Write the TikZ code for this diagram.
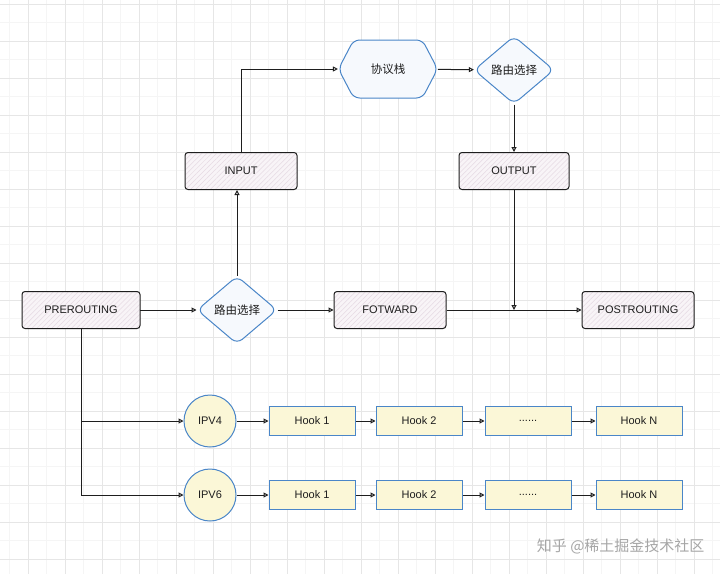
\documentclass[tikz,border=0pt]{standalone}
\usepackage{fontspec}
\setmainfont{Liberation Sans}
\newfontfamily\cjk{Noto Sans CJK SC}
\usepackage{xcolor}
\usepackage{tikz}
\usetikzlibrary{arrows.meta, positioning, shapes.geometric, shapes.symbols, patterns.meta}

\definecolor{inkline}{HTML}{1E1E1E}
\definecolor{blueline}{HTML}{4A86C8}
\definecolor{bluefill}{HTML}{F6F9FD}
\definecolor{yellowfill}{HTML}{FBF7D7}
\definecolor{pinkhatch}{HTML}{E6DAE3}
\definecolor{pinkfill}{HTML}{F8F4F7}
\definecolor{gridline}{HTML}{E6E6E6}

\begin{document}
\begin{tikzpicture}[
    x=1pt, y=1pt,
    font=\fontsize{11}{13}\selectfont,
    text=inkline,
    node distance=20pt and 20pt,
    hookchain/.style={
      draw=inkline,
      rounded corners=3pt,
      line width=1pt,
      preaction={fill=pinkfill},
      pattern={Lines[angle=45, distance=3.5pt, line width=0.5pt]},
      pattern color=pinkhatch,
      align=center,
      minimum width=112pt,
      minimum height=37pt,
      inner sep=3pt
    },
    decision/.style={
      diamond,
      draw=blueline,
      fill=bluefill,
      line width=1pt,
      rounded corners=7pt,
      minimum width=80pt,
      minimum height=68pt,
      inner sep=0pt,
      font=\cjk\fontsize{11.5}{13}\selectfont
    },
    stackbox/.style={
      signal,
      signal to=east and west,
      signal pointer angle=125,
      draw=blueline,
      fill=bluefill,
      line width=1pt,
      rounded corners=6pt,
      minimum width=99pt,
      minimum height=58pt,
      inner sep=0pt,
      font=\cjk\fontsize{11.5}{13}\selectfont
    },
    family/.style={
      circle,
      draw=blueline,
      fill=yellowfill,
      line width=1pt,
      minimum size=52pt,
      inner sep=0pt
    },
    hookbox/.style={
      draw=blueline,
      fill=yellowfill,
      line width=1pt,
      minimum width=86pt,
      minimum height=29pt,
      inner sep=2pt,
      font=\fontsize{11}{13}\selectfont
    },
    arrow/.style={
      -{Triangle[open, length=5pt, width=5pt]},
      line width=1pt,
      draw=inkline
    }
  ]

    % Paper with grid
    \fill[white] (0,0) rectangle (720,-573);
    \begin{scope}
      \clip (0,0) rectangle (720,-573);
      \draw[gridline!40, line width=0.4pt, step=18.5, shift={(28,-4)}] (-56,-592) grid (703,20);
      \draw[gridline, line width=0.6pt, step=37, shift={(28,-4)}] (-74,-592) grid (703,20);
    \end{scope}
    \useasboundingbox (0,0) rectangle (720,-573);

    % Main netfilter chain
    \node[hookchain, minimum width=118pt] (pre) at (81,-310) {PREROUTING};
    \node[decision] (route) at (237,-310) {路由选择};
    \node[hookchain] (fwd) at (390,-310) {FOTWARD};
    \node[hookchain] (post) at (638,-310) {POSTROUTING};

    % Local delivery and local output
    \node[hookchain] (input) at (241,-171) {INPUT};
    \node[stackbox] (stack) at (388,-69) {协议栈};
    \node[decision] (routeout) at (514,-70) {路由选择};
    \node[hookchain, minimum width=110pt] (output) at (514,-171) {OUTPUT};

    % Protocol families with their hook lists
    \node[family] (ipv4) at (210,-421) {IPV4};
    \node[hookbox] (h4a) at (312,-421) {Hook 1};
    \node[hookbox, right=of h4a] (h4b) {Hook 2};
    \node[hookbox, right=22pt of h4b] (h4c) {......};
    \node[hookbox, right=24pt of h4c] (h4d) {Hook N};

    \node[family] (ipv6) at (210,-495) {IPV6};
    \node[hookbox] (h6a) at (312,-495) {Hook 1};
    \node[hookbox, right=of h6a] (h6b) {Hook 2};
    \node[hookbox, right=22pt of h6b] (h6c) {......};
    \node[hookbox, right=24pt of h6c] (h6d) {Hook N};

    % Chain arrows
    \draw[arrow] (pre) -- (route);
    \draw[arrow] (route) -- (fwd);
    \draw[arrow] (fwd) -- (post);
    \draw[arrow] (route.north) -- (route.north |- input.south);
    \draw[arrow] (input.north) |- (stack.west);
    \draw[arrow] (stack) -- (routeout);
    \draw[arrow] (routeout) -- (output);
    \draw[arrow] (output.south) -- (output.south |- fwd.east);

    % Family branches
    \draw[arrow] (pre.south) |- (ipv4.west);
    \draw[arrow] (pre.south) |- (ipv6.west);
    \draw[arrow] (ipv4) -- (h4a);
    \draw[arrow] (h4a) -- (h4b);
    \draw[arrow] (h4b) -- (h4c);
    \draw[arrow] (h4c) -- (h4d);
    \draw[arrow] (ipv6) -- (h6a);
    \draw[arrow] (h6a) -- (h6b);
    \draw[arrow] (h6b) -- (h6c);
    \draw[arrow] (h6c) -- (h6d);

    % Watermark
    \node[text=black!35, font=\cjk\fontsize{15}{17}\selectfont, anchor=east] (mark) at (708,-546) {知乎 @稀土掘金技术社区};

\end{tikzpicture}
\end{document}
